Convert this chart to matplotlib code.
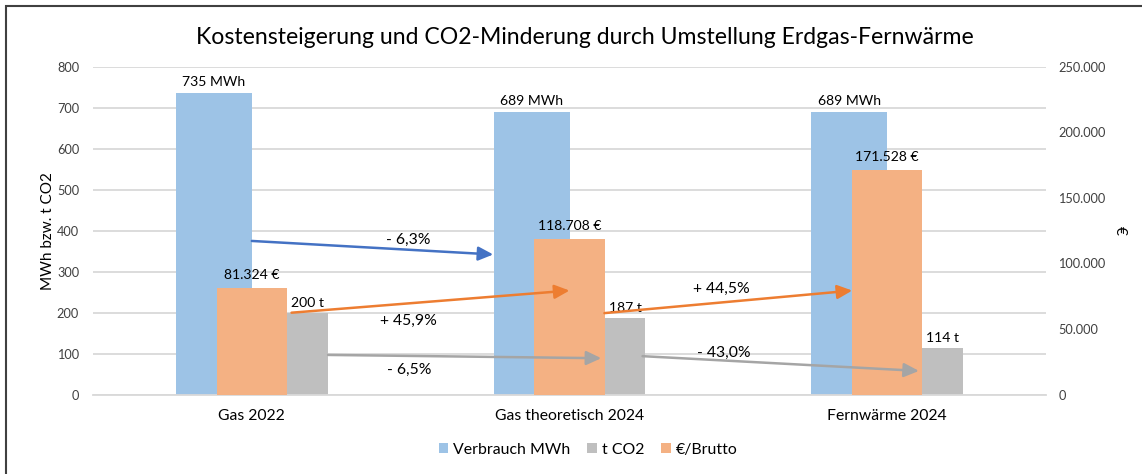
import matplotlib
matplotlib.use("Agg")
import matplotlib.pyplot as plt
import numpy as np
from matplotlib.patches import Rectangle

plt.rcParams['font.family'] = ['Lato', 'DejaVu Sans']

cats = ["Gas 2022", "Gas theoretisch 2024", "Fernwärme 2024"]
mwh = [735, 689, 689]
co2 = [200, 187, 114]
euro = [81324, 118708, 171528]

series_names = ["Verbrauch MWh", "t CO2", "€/Brutto"]
c_blue, c_gray, c_orange = "#9DC3E6", "#BFBFBF", "#F4B183"

# change arrows (hand drawn in the original), primary-axis coords
arrows = [((0.0, 375), (0.76, 342), "#4472C4"),
          ((0.125, 200), (1.0, 254), "#ED7D31"),
          ((1.11, 199), (1.89, 254), "#ED7D31"),
          ((0.24, 97), (1.10, 89), "#A5A5A5"),
          ((1.23, 94), (2.10, 58), "#A5A5A5")]
pct_text = ["- 6,3%", "+ 45,9%", "+ 44,5%", "- 6,5%", "- 43,0%"]
pct_pos = [(0.491, 377), (0.494, 179), (1.479, 258), (0.494, 60), (1.486, 102)]


def de_num(v):
    return f"{v:,.0f}".replace(",", ".")


fig = plt.figure(figsize=(11.42, 4.74), dpi=100)
ax = fig.add_axes([93/1142, 1-394.7/474, 953/1142, (394.7-66.7)/474])
ax2 = ax.twinx()

x = np.arange(len(cats))
w = 0.239
wo = 0.222
b1 = ax.bar(x - w/2, mwh, w, color=c_blue, zorder=2)
# gray bar: only the part beside the orange bar is visible
b2 = ax.bar(x + wo/2, co2, w - wo/2, align='edge', color=c_gray, zorder=2)
b3 = ax2.bar(x, euro, wo, color=c_orange, zorder=2)

ax.bar_label(b1, labels=[f"{v} MWh" for v in mwh], padding=4, fontsize=10.1)
ax.bar_label(b2, labels=[f"{v} t" for v in co2], padding=3, fontsize=10.1)
ax2.bar_label(b3, labels=[de_num(v) + " €" for v in euro], padding=5, fontsize=10.1)

ax.set_xlim(-0.5, 2.5)
ax.set_ylim(0, 800)
ax.set_yticks(np.arange(0, 801, 100))
ax2.set_ylim(0, 250000)
ax2.set_yticks(np.arange(0, 250001, 50000))
ax2.set_yticklabels([de_num(v) for v in np.arange(0, 250001, 50000)])
ax.set_xticks(x)
ax.set_xticklabels(cats, fontsize=11.3)

ax.grid(axis='y', color='#D9D9D9', lw=1.3, zorder=0)
ax.set_axisbelow(True)
for a in (ax, ax2):
    for s in a.spines.values():
        s.set_visible(False)
    a.tick_params(length=0, colors='#404040')
ax.spines['bottom'].set_visible(True)
ax.spines['bottom'].set_color('#D9D9D9')
ax.spines['bottom'].set_linewidth(1.3)
ax.tick_params(axis='y', labelsize=9.2, pad=10)
ax.tick_params(axis='x', pad=10, colors='black')
ax2.tick_params(axis='y', labelsize=9.2, pad=9)

ax.set_ylabel("MWh bzw. t CO2", fontsize=11, labelpad=1)
ax2.set_ylabel("€", fontsize=11, rotation=-90, labelpad=15)

for (p0, p1, col) in arrows:
    ax2.annotate("", xy=p1, xytext=p0, xycoords=ax.transData, textcoords=ax.transData,
                 arrowprops=dict(arrowstyle="-|>,head_length=0.75,head_width=0.35",
                                 color=col, lw=1.8, mutation_scale=12,
                                 shrinkA=0, shrinkB=0), zorder=5)
for t, (px, py) in zip(pct_text, pct_pos):
    ax2.text(px, py, t, transform=ax.transData, ha='center', va='center', fontsize=11.3, zorder=6)

fig.text(584.5/1142, 1-37/474, "Kostensteigerung und CO2-Minderung durch Umstellung Erdgas-Fernwärme",
         ha='center', va='center', fontsize=16.6)

fig.legend([b1, b2, b3], series_names, loc='center', bbox_to_anchor=(588/1142, 1-450/474),
           ncol=3, frameon=False, fontsize=11.4, handlelength=0.6, handleheight=0.6,
           handletextpad=0.3, columnspacing=1.1)

fig.patches.append(Rectangle((6/1142, -0.1), 1.2, 1.1 - 6/474, transform=fig.transFigure,
                             fill=False, edgecolor='#404040', lw=1.5))

fig.savefig("out.png", dpi=100)
